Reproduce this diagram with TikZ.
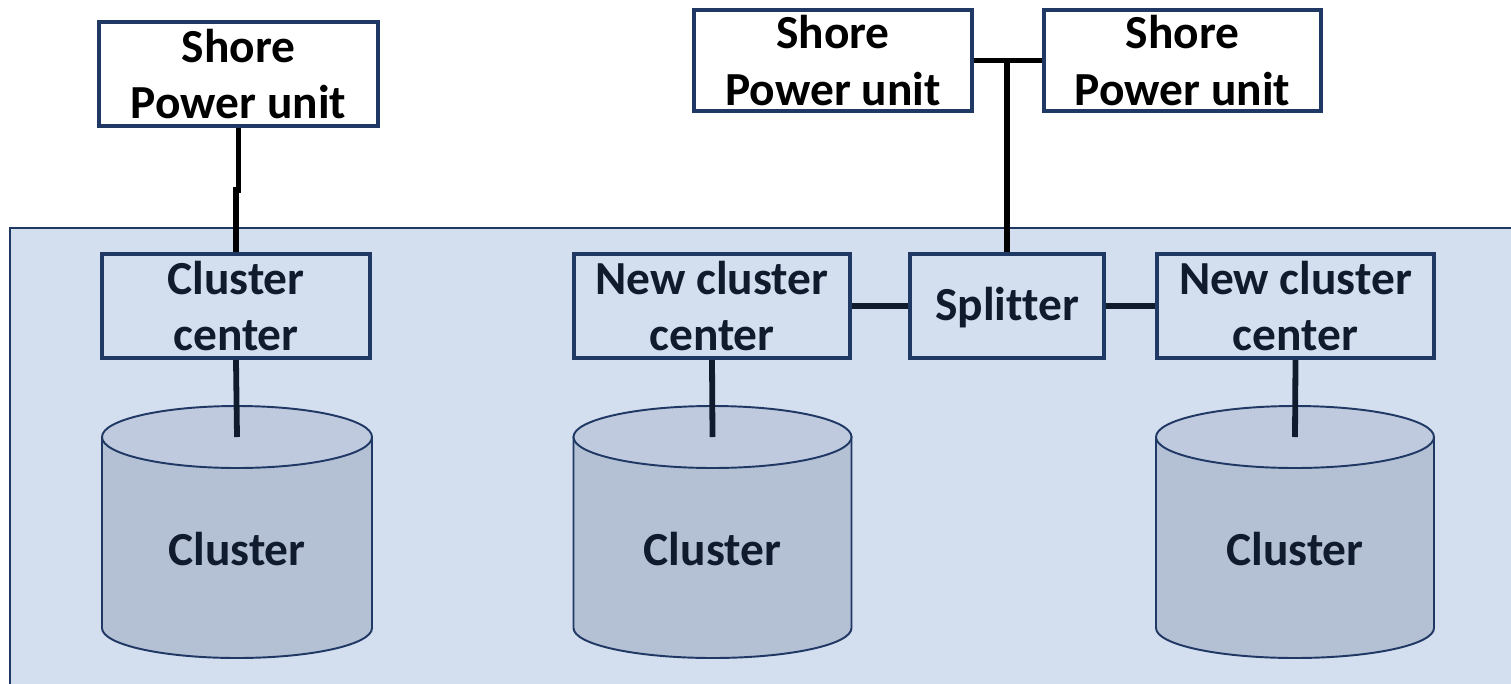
\documentclass[tikz,border=0pt]{standalone}
\usepackage{fontspec}
\setmainfont{Carlito}[Ligatures=NoCommon]
\definecolor{panelblue}{RGB}{211,222,239}
\definecolor{boxblue}{RGB}{31,56,100}
\definecolor{drumtop}{RGB}{192,202,223}
\definecolor{drumbody}{RGB}{180,192,212}
\definecolor{inkblue}{RGB}{17,27,46}

\begin{document}
\begin{tikzpicture}[x=0.02cm, y=-0.02cm,
    unit/.style={draw=boxblue, line width=2.4pt, align=center, inner sep=0pt,
      font=\bfseries\fontsize{27}{32}\selectfont, minimum height=2.08cm},
    wire/.style={line width=3.3pt},
    drum/.style={draw=boxblue, line width=1.1pt}]
  \useasboundingbox (0,0) rectangle (1511,683);
  % ship area
  \draw[boxblue, line width=1.1pt, fill=panelblue] (10,228) rectangle (1540,710);

  % clusters
  \foreach \cx/\rx/\nm in {237/135/drumA, 712.5/139/drumB, 1295/139/drumC} {
    \filldraw[drum, fill=drumbody] (\cx-\rx,437) -- (\cx-\rx,628)
      arc[start angle=180, end angle=360, x radius=\rx*0.02cm, y radius=0.6cm]
      -- (\cx+\rx,437) -- cycle;
    \filldraw[drum, fill=drumtop] (\cx,437) ellipse [x radius=\rx*0.02cm, y radius=0.62cm];
    \coordinate (\nm) at (\cx,437);
    \node[font=\bfseries\fontsize{27}{32}\selectfont, text=inkblue] (\nm-text) at (\cx,549) {Cluster};
  }

  % boxes
  \node[unit, minimum width=5.58cm, fill=white] (shoreA) at (238.5,74) {Shore\\Power unit};
  \node[unit, minimum width=5.56cm, minimum height=2.02cm, fill=white] (shoreB) at (833,60.5) {Shore\\Power unit};
  \node[unit, minimum width=5.54cm, minimum height=2.02cm, fill=white] (shoreC) at (1182.5,60.5) {Shore\\Power unit};
  \node[unit, minimum width=5.36cm, text=inkblue] (clustA) at (236,306) {Cluster\\center};
  \node[unit, minimum width=5.52cm, text=inkblue] (newA) at (712,306) {New cluster\\center};
  \node[unit, minimum width=3.88cm, text=inkblue, text depth=0.1cm] (split) at (1007,306) {Splitter};
  \node[unit, minimum width=5.54cm, text=inkblue] (newB) at (1295.5,306) {New cluster\\center};

  % wires
  \draw[wire] (shoreA.south) -- ++(0,62) -| (clustA.north);
  \draw[wire] (shoreB.east) -- (shoreC.west);
  \draw[wire] (split.north) -- (split.north |- shoreB.east);
  \draw[wire, inkblue] (newA.east) -- (split.west);
  \draw[wire, inkblue] (split.east) -- (newB.west);
  \draw[wire, inkblue] (clustA.south) -- (drumA);
  \draw[wire, inkblue] (newA.south) -- (drumB);
  \draw[wire, inkblue] (newB.south) -- (drumC);
\end{tikzpicture}
\end{document}
